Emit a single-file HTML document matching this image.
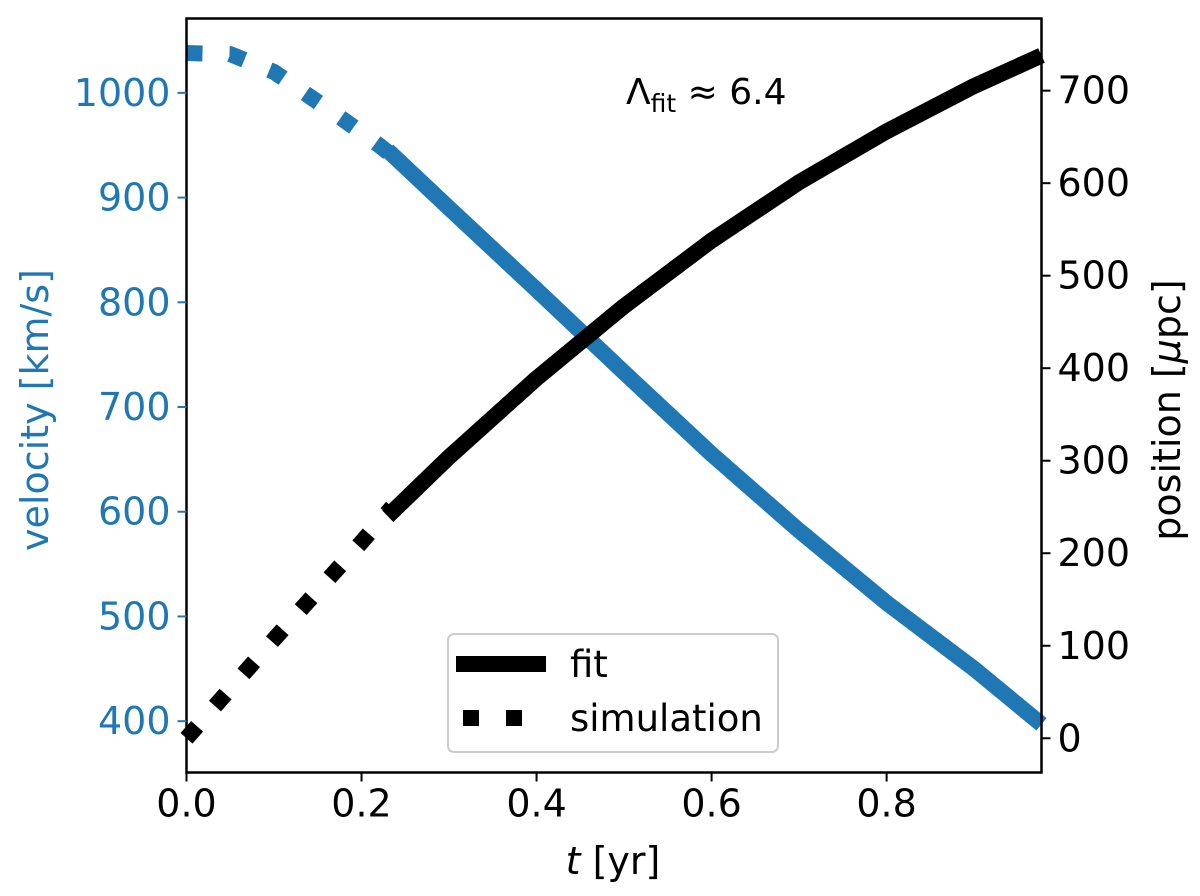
<!DOCTYPE html>
<html><head><meta charset="utf-8"><style>
body{margin:0;background:#fff;}
svg text{font-family:"DejaVu Sans","Liberation Sans",sans-serif;}
</style></head><body>
<svg id="chart" width="1200" height="891" viewBox="0 0 1200 891">
<g id="marks"></g>
<rect x="186.5" y="18.5" width="855" height="754" fill="none" stroke="#000" stroke-width="2.5"/>
<g id="axes"></g>
<text x="626" y="104" font-size="36">Λ<tspan font-size="25" dy="8">fit</tspan><tspan dy="-8"> ≈ 6.4</tspan></text>
<text x="613" y="874" font-size="38" text-anchor="middle"><tspan font-style="italic">t</tspan> [yr]</text>
<text transform="translate(48,410) rotate(-90)" font-size="38" fill="#1f77b4" text-anchor="middle">velocity [km/s]</text>
<text transform="translate(1180,410) rotate(-90)" font-size="38" fill="#000" text-anchor="middle">position [<tspan font-style="italic">μ</tspan>pc]</text>
<g>
<rect x="448" y="634" width="330" height="118" rx="6" fill="#fff" stroke="#ccc" stroke-width="2"/>
<line x1="456" y1="664" x2="546" y2="664" stroke="#000" stroke-width="16"/>
<text x="570" y="677" font-size="37">fit</text>
<line x1="463" y1="718" x2="546" y2="718" stroke="#000" stroke-width="16" stroke-dasharray="16,27"/>
<text x="570" y="731" font-size="37">simulation</text>
</g>
</svg>
<script>
const simT=[0,0.05,0.1,0.14,0.18,0.22,0.235];
const simVel=[1038,1037,1020,997,974,950,940];
const simPosT=[0,0.1,0.2,0.235];
const simPos=[0,107,212,250];
const fitT=[0.23,0.3,0.4,0.5,0.6,0.7,0.8,0.9,0.977];
const fitVel=[945,890,812,733,655,582,513,450,397];
const fitPos=[240,304,389,467,538,601,656,705,738];
const xTicks=[0,0.2,0.4,0.6,0.8];
const xTickLabels=["0.0","0.2","0.4","0.6","0.8"];
const vTicks=[400,500,600,700,800,900,1000];
const pTicks=[0,100,200,300,400,500,600,700];

const X0=186.5,X1=1041.5,Y0=772.5,Y1=18.5;
const xs=t=>X0+t/0.977*(X1-X0);
const yv=v=>Y0-(v-351)/(1071-351)*(Y0-Y1);
const yp=p=>Y0-(p+37)/(778+37)*(Y0-Y1);
const NS="http://www.w3.org/2000/svg";
const marks=document.getElementById('marks'),axes=document.getElementById('axes');
function line(g,T,V,fy,color,dash,name){
  const el=document.createElementNS(NS,'polyline');
  el.setAttribute('points',T.map((t,i)=>xs(t)+','+fy(V[i])).join(' '));
  el.setAttribute('fill','none');el.setAttribute('stroke',color);el.setAttribute('stroke-width','16');
  el.setAttribute('stroke-linejoin','round');
  if(dash)el.setAttribute('stroke-dasharray',dash);
  
  
  g.appendChild(el);
}
line(marks,simT,simVel,yv,'#1f77b4','16,27','velocity-simulation-line');
line(marks,fitT,fitVel,yv,'#1f77b4',null,'velocity-fit-line');
line(marks,simPosT,simPos,yp,'#000','16,27','position-simulation-line');
line(marks,fitT,fitPos,yp,'#000',null,'position-fit-line');
function tick(x1,y1,x2,y2,color,name){
  const l=document.createElementNS(NS,'line');
  l.setAttribute('x1',x1);l.setAttribute('y1',y1);l.setAttribute('x2',x2);l.setAttribute('y2',y2);
  l.setAttribute('stroke',color);l.setAttribute('stroke-width','2');
  
  
  axes.appendChild(l);
}
function label(x,y,s,color,anchor,name){
  const t=document.createElementNS(NS,'text');
  t.setAttribute('x',x);t.setAttribute('y',y);t.setAttribute('fill',color);
  t.setAttribute('font-size','38');t.setAttribute('text-anchor',anchor);t.textContent=s;
  
  
  axes.appendChild(t);
}
xTicks.forEach((v,i)=>{tick(xs(v),Y0,xs(v),Y0+9,'#000','x-tick');label(xs(v),Y0+44,xTickLabels[i],'#000','middle','x-tick-label');});
vTicks.forEach(v=>{tick(X0-9,yv(v),X0,yv(v),'#1f77b4','left-y-tick');label(X0-16,yv(v)+13,String(v),'#1f77b4','end','left-y-tick-label');});
pTicks.forEach(v=>{tick(X1,yp(v),X1+9,yp(v),'#000','right-y-tick');label(X1+16,yp(v)+13,String(v),'#000','start','right-y-tick-label');});
</script>
</body></html>
